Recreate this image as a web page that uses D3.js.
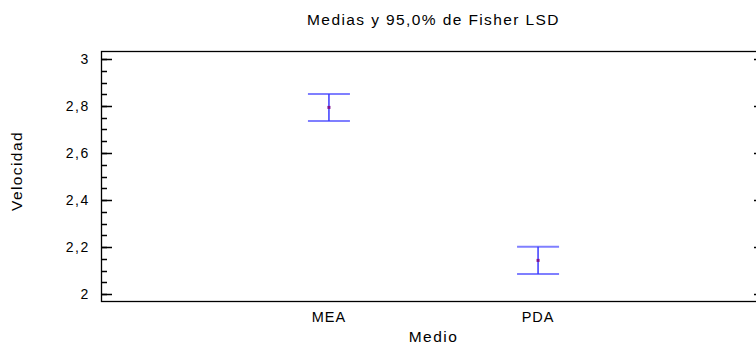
<!DOCTYPE html>
<html><head><meta charset="utf-8">
<script src="https://cdn.jsdelivr.net/npm/d3@7"></script>
<style>body{margin:0;background:#fff}svg{display:block}text{font-family:"Liberation Sans",Arial,sans-serif;fill:#000}</style>
</head><body>
<script>
const categories = ["MEA", "PDA"];
const means = [2.794, 2.143];
const lower = [2.736, 2.085];
const upper = [2.851, 2.201];
const yTicks = [2, 2.2, 2.4, 2.6, 2.8, 3];
const yTickLabels = ["2", "2,2", "2,4", "2,6", "2,8", "3"];
const title = "Medias y 95,0% de Fisher LSD";
const xTitle = "Medio";
const yTitle = "Velocidad";

const W = 756, H = 347;
const L = 101, R = 766, T = 51, B = 301;
const svg = d3.select("body").append("svg").attr("width", W).attr("height", H);

const x = d3.scalePoint().domain(categories).range([L, R]).padding(1.09);
const y = d3.scaleLinear().domain([2, 3]).range([294, 59]);

// frame
svg.append("rect").attr("x", L + 0.5).attr("y", T + 0.5).attr("width", R - L).attr("height", B - T)
  .attr("fill", "none").attr("stroke", "#000").attr("stroke-width", 1.3);

// left axis
const minor = d3.range(2, 3.0001, 0.05);
const gl = svg.append("g");
gl.selectAll("line.minor").data(minor).join("line")
  .attr("x1", L).attr("x2", L + 6).attr("y1", d => Math.round(y(d)) + 0.5).attr("y2", d => Math.round(y(d)) + 0.5)
  .attr("stroke", "#000").attr("stroke-width", 1.5);
gl.selectAll("line.major").data(yTicks).join("line")
  .attr("x1", L).attr("x2", L + 11).attr("y1", d => Math.round(y(d)) + 0.5).attr("y2", d => Math.round(y(d)) + 0.5)
  .attr("stroke", "#000").attr("stroke-width", 1.5);
gl.selectAll("text").data(yTicks).join("text")
  .attr("x", 90).attr("y", d => y(d)).attr("dy", "0.35em").attr("text-anchor", "end")
  .attr("font-size", 14).attr("letter-spacing", 1.6)
  .text((d, i) => yTickLabels[i]);
// right ticks
svg.append("g").selectAll("line").data(yTicks).join("line")
  .attr("x1", R - 12).attr("x2", R).attr("y1", d => Math.round(y(d)) + 0.5).attr("y2", d => Math.round(y(d)) + 0.5)
  .attr("stroke", "#000").attr("stroke-width", 1.5);

// x labels
svg.append("g").selectAll("text").data(categories).join("text")
  .attr("x", d => x(d)).attr("y", 322).attr("text-anchor", "middle")
  .attr("font-size", 14.5).attr("letter-spacing", 1).text(d => d);

// error bars
const g = svg.append("g");
categories.forEach((c, i) => {
  const cx = x(c);
  g.append("line").attr("x1", cx - 21).attr("x2", cx + 21).attr("y1", y(upper[i])).attr("y2", y(upper[i]))
    .attr("stroke", "#7f7fff").attr("stroke-width", 2);
  g.append("line").attr("x1", cx - 21).attr("x2", cx + 21).attr("y1", y(lower[i])).attr("y2", y(lower[i]))
    .attr("stroke", "#7f7fff").attr("stroke-width", 2);
  g.append("line").attr("x1", cx).attr("x2", cx).attr("y1", y(upper[i])).attr("y2", y(lower[i]))
    .attr("stroke", "#3a3aff").attr("stroke-width", 1.5);
  g.append("rect").attr("x", cx - 1.5).attr("y", y(means[i]) - 1.5).attr("width", 3).attr("height", 3)
    .attr("fill", "#80108f");
});

// titles
svg.append("text").attr("x", (L + R) / 2).attr("y", 25).attr("text-anchor", "middle")
  .attr("font-size", 15.5).attr("letter-spacing", 1.4).text(title);
svg.append("text").attr("x", (L + R) / 2).attr("y", 342).attr("text-anchor", "middle")
  .attr("font-size", 15.5).attr("letter-spacing", 1.5).text(xTitle);
svg.append("text").attr("transform", `translate(22,171) rotate(-90)`).attr("text-anchor", "middle")
  .attr("font-size", 15.5).attr("letter-spacing", 1.4).text(yTitle);
</script>
</body></html>
